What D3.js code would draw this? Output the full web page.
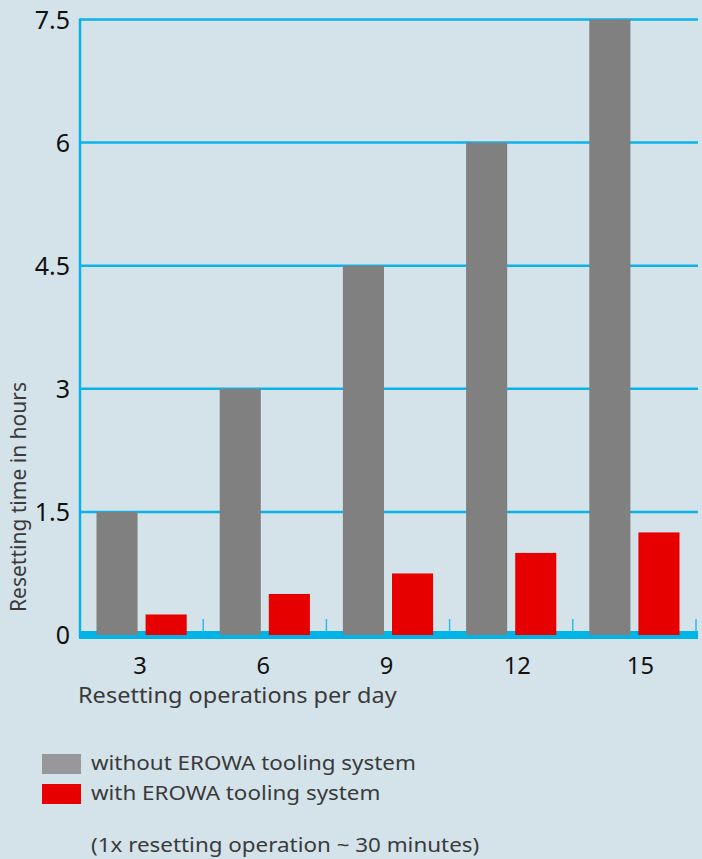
<!DOCTYPE html>
<meta charset="utf-8">
<style>
body { margin: 0; background: #d4e3ea; }
svg { display: block; font-family: 'Noto Sans', 'Open Sans', sans-serif; }
.grid line { stroke: #0ab4e8; stroke-width: 2.5; }
.ytick { fill: #111; font-size: 25px; }
.xtick { fill: #111; font-size: 23px; }
.axis-title { fill: #3a3a3a; font-size: 21px; }
.legend text { fill: #3a3a3a; font-size: 20px; }
</style>
<body>
<script src="https://d3js.org/d3.v7.min.js"></script>
<script>
// data
var categories = ["3", "6", "9", "12", "15"];
var series = ["without", "with"];
var withoutErowa = [1.5, 3, 4.5, 6, 7.5];
var withErowa = [0.25, 0.5, 0.75, 1.0, 1.25];
var yTicks = [0, 1.5, 3, 4.5, 6, 7.5];
var legendLabels = ["without EROWA tooling system", "with EROWA tooling system"];
var note = "(1x resetting operation ~ 30 minutes)";

var W = 702, H = 859;
var plotLeft = 80, plotRight = 698, plotTop = 19.5, plotBottom = 635;
var colors = { without: "#808080", with: "#e60000" };
var stretch = 1.12; // the reference text is a bit wider than the font

var svg = d3.select("body").append("svg")
	.attr("width", W)
	.attr("height", H);

var x = d3.scaleBand().domain(categories).range([plotLeft, 696]).padding(0);
var xs = d3.scaleBand().domain(series)
	.range([16.5, x.bandwidth() - 16.5])
	.paddingInner(0.163);
var y = d3.scaleLinear().domain([0, 7.5]).range([plotBottom, plotTop]);

// stretched horizontal text
function hText(parent, tx, ty, cls, anchor, str, sx) {
	parent.append("text")
		.attr("class", cls)
		.attr("transform", "translate(" + tx + "," + ty + ") scale(" + (sx || stretch) + ",1)")
		.attr("text-anchor", anchor)
		.text(str);
}

// gridlines
svg.append("g")
	.attr("class", "grid")
	.selectAll("line")
	.data(yTicks.slice(1))
	.join("line")
	.attr("x1", plotLeft)
	.attr("x2", plotRight)
	.attr("y1", function(d) { return y(d); })
	.attr("y2", function(d) { return y(d); });

// left axis line
svg.append("line")
	.attr("x1", plotLeft).attr("x2", plotLeft)
	.attr("y1", plotTop - 1).attr("y2", plotBottom + 2)
	.style("stroke", "#0ab4e8")
	.style("stroke-width", 2.5);

// thick baseline
svg.append("rect")
	.attr("x", plotLeft - 1)
	.attr("y", 631)
	.attr("width", plotRight - plotLeft + 1)
	.attr("height", 8)
	.style("fill", "#00b4e8");

// small ticks between groups
svg.append("g")
	.selectAll("line")
	.data(categories)
	.join("line")
	.attr("x1", function(d) { return x(d) + x.bandwidth(); })
	.attr("x2", function(d) { return x(d) + x.bandwidth(); })
	.attr("y1", 619)
	.attr("y2", 632)
	.style("stroke", "#2cbcec")
	.style("stroke-width", 1.5);

// bars
var rows = categories.map(function(c, i) {
	return { cat: c, without: withoutErowa[i], with: withErowa[i] };
});
var groups = svg.append("g")
	.selectAll("g")
	.data(rows)
	.join("g")
	.attr("transform", function(d) { return "translate(" + x(d.cat) + ",0)"; });

groups.selectAll("rect")
	.data(function(d) { return series.map(function(s) { return { key: s, value: d[s] }; }); })
	.join("rect")
	.attr("x", function(d) { return xs(d.key); })
	.attr("width", xs.bandwidth())
	.attr("y", function(d) { return y(d.value); })
	.attr("height", function(d) { return y(0) - y(d.value); })
	.style("fill", function(d) { return colors[d.key]; });

// y tick labels
yTicks.forEach(function(d) {
	hText(svg, 70, y(d) + 9, "ytick", "end", d, 1);
});

// x tick labels (two-digit labels sit a little to the right in the original)
categories.forEach(function(d) {
	var cx = x(d) + x.bandwidth() / 2 - 1.5 + (d.length - 1) * 7.5;
	hText(svg, cx, 674, "xtick", "middle", d, 1.03);
});

// axis titles
hText(svg, 78, 703, "axis-title", "start", "Resetting operations per day");

svg.append("text")
	.attr("class", "axis-title")
	.attr("transform", "translate(26,497) rotate(-90)")
	.attr("text-anchor", "middle")
	.text("Resetting time in hours");

// legend
var legend = svg.append("g").attr("class", "legend");
var legendColors = ["#98979c", "#e60000"];
var legendY = [754, 784];
legend.selectAll("rect")
	.data(legendLabels)
	.join("rect")
	.attr("x", 42)
	.attr("y", function(d, i) { return legendY[i]; })
	.attr("width", 39)
	.attr("height", 20)
	.style("fill", function(d, i) { return legendColors[i]; });
legendLabels.forEach(function(d, i) {
	hText(legend, 91, legendY[i] + 16, "lab", "start", d);
});
hText(legend, 91, 852, "note", "start", note);
</script>
